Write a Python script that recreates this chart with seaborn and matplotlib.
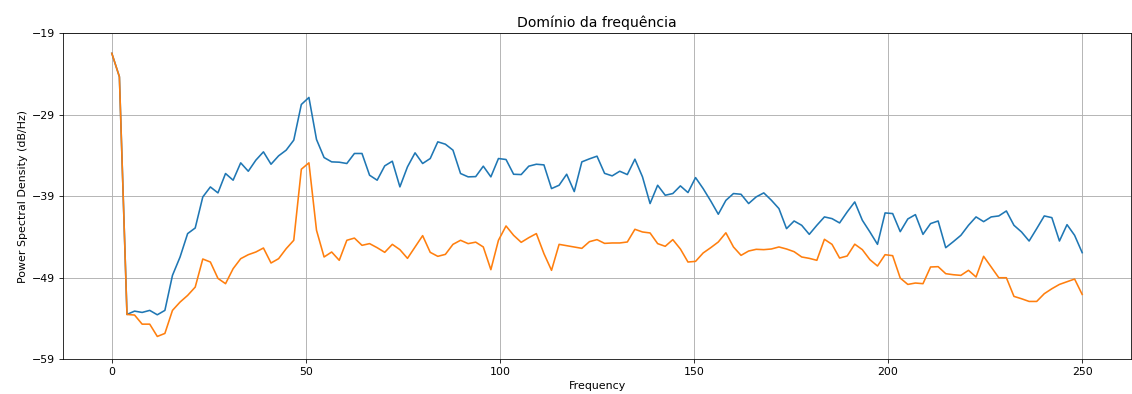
import numpy as np
import pandas as pd
import matplotlib
matplotlib.use("Agg")
import matplotlib.pyplot as plt
import seaborn as sns

# Frequency axis: 129 bins from 0 to 250 Hz
n_bins = 129
freqs = np.arange(n_bins) * 250.0 / (n_bins - 1)

psd_blue = [
    -21.46, -24.34, -53.53, -53.12, -53.28, -53.03, -53.57, -53.03, -48.73, -46.48,
    -43.60, -42.91, -39.10, -37.87, -38.60, -36.22, -37.04, -34.91, -35.94, -34.58,
    -33.56, -35.08, -34.05, -33.35, -32.12, -27.74, -26.88, -32.04, -34.26, -34.79,
    -34.83, -34.99, -33.76, -33.76, -36.43, -37.04, -35.28, -34.71, -37.86, -35.40,
    -33.68, -34.99, -34.38, -32.33, -32.62, -33.35, -36.22, -36.63, -36.60, -35.32,
    -36.63, -34.38, -34.50, -36.31, -36.35, -35.32, -35.08, -35.16, -38.07, -37.66,
    -36.31, -38.44, -34.79, -34.42, -34.09, -36.20, -36.51, -35.94, -36.35, -34.46,
    -36.63, -39.91, -37.66, -38.89, -38.68, -37.74, -38.56, -36.72, -38.07, -39.59,
    -41.22, -39.52, -38.68, -38.77, -39.91, -39.09, -38.60, -39.50, -40.53, -42.99,
    -42.05, -42.58, -43.69, -42.58, -41.55, -41.76, -42.29, -40.94, -39.71, -41.96,
    -43.40, -44.92, -41.06, -41.14, -43.36, -41.80, -41.27, -43.69, -42.37, -42.05,
    -45.33, -44.59, -43.81, -42.58, -41.55, -42.13, -41.55, -41.43, -40.82, -42.58,
    -43.40, -44.51, -42.99, -41.43, -41.64, -44.51, -42.50, -43.81, -45.94,
]

psd_orange = [
    -21.46, -24.34, -53.53, -53.60, -54.72, -54.72, -56.23, -55.86, -53.03, -52.01,
    -51.19, -50.17, -46.72, -47.09, -49.10, -49.75, -47.91, -46.68, -46.19, -45.86,
    -45.37, -47.21, -46.68, -45.45, -44.42, -35.69, -34.91, -43.19, -46.47, -45.86,
    -46.88, -44.42, -44.15, -45.04, -44.83, -45.33, -45.90, -44.92, -45.57, -46.64,
    -45.24, -43.85, -45.90, -46.39, -46.15, -44.92, -44.42, -44.83, -44.65, -45.24,
    -48.03, -44.42, -42.66, -43.81, -44.67, -44.10, -43.60, -46.06, -48.11, -44.92,
    -45.08, -45.24, -45.41, -44.59, -44.34, -44.80, -44.75, -44.75, -44.63, -43.07,
    -43.40, -43.52, -44.83, -45.16, -44.34, -45.49, -47.09, -47.01, -45.98, -45.33,
    -44.63, -43.50, -45.24, -46.27, -45.74, -45.53, -45.57, -45.49, -45.24, -45.49,
    -45.82, -46.47, -46.64, -46.88, -44.30, -44.92, -46.60, -46.35, -44.90, -45.57,
    -46.80, -47.58, -46.19, -46.31, -49.06, -49.84, -49.67, -49.75, -47.70, -47.66,
    -48.52, -48.65, -48.73, -48.11, -48.93, -46.39, -47.70, -49.02, -49.02, -51.31,
    -51.60, -51.93, -51.93, -50.98, -50.37, -49.84, -49.51, -49.18, -51.07,
]

y_ticks = [-59, -49, -39, -29, -19]
x_ticks = [0, 50, 100, 150, 200, 250]
series_names = ["sinal 1", "sinal 2"]
colors = ["#1f77b4", "#ff7f0e"]

df = pd.DataFrame({
    "Frequency": np.concatenate([freqs, freqs]),
    "PSD": np.concatenate([psd_blue, psd_orange]),
    "serie": [series_names[0]] * n_bins + [series_names[1]] * n_bins,
})

W, H, DPI = 1132, 394, 72
fig = plt.figure(figsize=(W / DPI, H / DPI), dpi=DPI)
ax = fig.add_axes([63.3 / W, 1 - 359.0 / H, (1130.7 - 63.3) / W, (359.0 - 33.3) / H])

sns.lineplot(data=df, x="Frequency", y="PSD", hue="serie", hue_order=series_names,
             palette=colors, linewidth=1.6, legend=False, ax=ax, sort=False,
             estimator=None)

ax.set_xlim(-12.5, 262.5)
ax.set_ylim(-59, -19)
ax.set_yticks(y_ticks)
ax.set_xticks(x_ticks)
ax.grid(True, color="#b0b0b0", linewidth=0.9)
ax.set_title("Domínio da frequência", fontsize=14, pad=6)
ax.set_xlabel("Frequency", fontsize=11, labelpad=4)
ax.set_ylabel("Power Spectral Density (dB/Hz)", fontsize=11)
ax.tick_params(labelsize=11, length=4, pad=4)

fig.savefig("out.png", dpi=DPI)
